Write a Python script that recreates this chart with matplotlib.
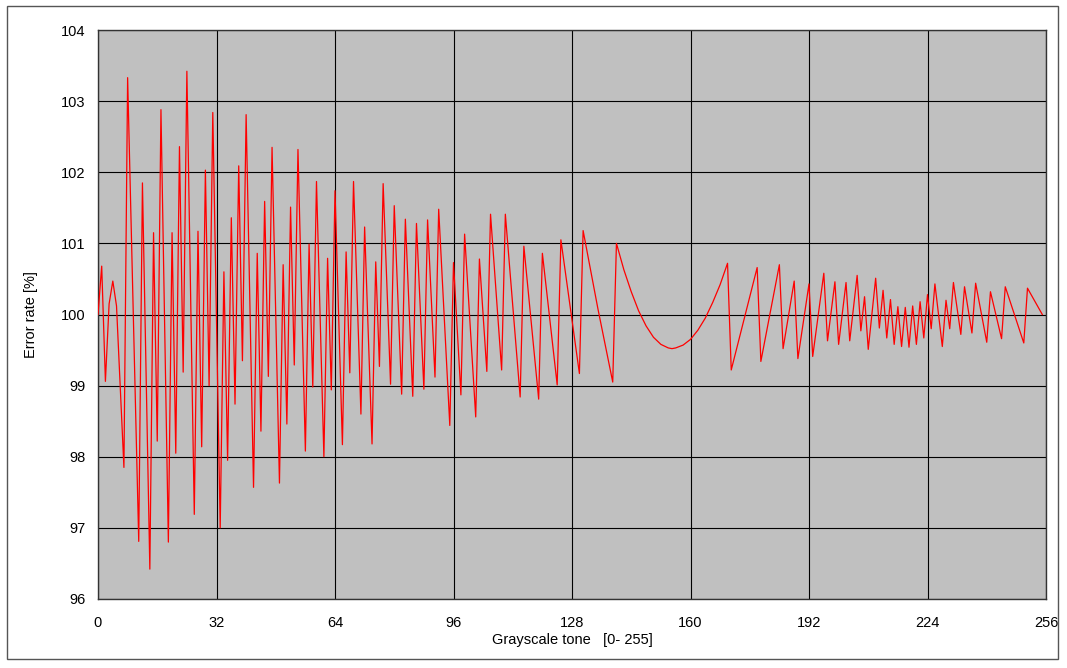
import matplotlib
matplotlib.use('Agg')
import matplotlib.pyplot as plt
from matplotlib.patches import Rectangle

plt.rcParams['font.family'] = ['Liberation Sans', 'DejaVu Sans']

# grayscale tone (vertices of the curve) and error rate
tone = [0, 1, 2, 3, 4, 5, 7, 8, 11, 12, 14, 15, 16, 17, 19, 20, 21, 22, 23, 24,
        26, 27, 28, 29, 30, 31, 33, 34, 35, 36, 37, 38, 39, 40, 42, 43, 44, 45, 46, 47,
        49, 50, 51, 52, 53, 54, 56, 57, 58, 59, 61, 62, 63, 64, 66, 67, 68, 69, 71, 72,
        74, 75, 76, 77, 79, 80, 82, 83, 85, 86, 88, 89, 91, 92, 95, 96, 98, 99, 102, 103,
        105, 106, 109, 110, 114, 115, 119, 120, 124, 125, 130, 131, 135, 139, 140,
        142, 144, 146, 148, 150, 152, 154, 155, 156, 158, 160, 162, 164, 166, 168, 170,
        171, 178, 179, 184, 185, 188, 189, 192, 193, 196, 197, 199, 200, 202, 203, 205,
        206, 207, 208, 210, 211, 212, 213, 214, 215, 216, 217, 218, 219, 220, 221, 222,
        223, 224, 225, 226, 228, 229, 230, 231, 233, 234, 236, 237, 240, 241, 244, 245,
        250, 251, 255]
error = [100.0, 100.68, 99.06, 100.15, 100.47, 100.12, 97.85, 103.33, 96.81, 101.85,
         96.42, 101.15, 98.22, 102.88, 96.8, 101.15, 98.05, 102.36, 99.19, 103.42,
         97.19, 101.17, 98.14, 102.03, 99.0, 102.84, 97.0, 100.6, 97.95, 101.36,
         98.74, 102.09, 99.35, 102.81, 97.57, 100.86, 98.36, 101.59, 99.13, 102.35,
         97.63, 100.70, 98.46, 101.51, 99.29, 102.32, 98.08, 100.99, 98.98, 101.87,
         98.0, 100.79, 98.94, 101.74, 98.17, 100.88, 99.18, 101.87, 98.6, 101.23,
         98.18, 100.74, 99.27, 101.84, 99.02, 101.53, 98.88, 101.34, 98.85, 101.28,
         98.95, 101.33, 99.12, 101.48, 98.44, 100.73, 98.87, 101.13, 98.56, 100.78,
         99.2, 101.41, 99.22, 101.41, 98.84, 100.96, 98.81, 100.86, 99.01, 101.05,
         99.17, 101.18, 100.08, 99.05, 101.0,
         100.63, 100.32, 100.05, 99.84, 99.68, 99.58, 99.53, 99.52, 99.53, 99.57,
         99.65, 99.78, 99.95, 100.17, 100.42, 100.72,
         99.22, 100.66, 99.34, 100.70, 99.52, 100.47, 99.38, 100.43, 99.41, 100.58,
         99.63, 100.46, 99.58, 100.45, 99.63, 100.55,
         99.77, 100.25, 99.51, 100.51, 99.81, 100.34, 99.67, 100.21, 99.58, 100.11,
         99.55, 100.10, 99.54, 100.12, 99.58, 100.18,
         99.67, 100.28, 99.80, 100.43, 99.55, 100.20, 99.80, 100.45, 99.72, 100.39,
         99.74, 100.44, 99.61, 100.32, 99.66, 100.39,
         99.60, 100.37, 100.0]

xticks = [0, 32, 64, 96, 128, 160, 192, 224, 256]
yticks = [96, 97, 98, 99, 100, 101, 102, 103, 104]

W, H = 1067, 668
fig = plt.figure(figsize=(W / 100, H / 100), dpi=100)
fig.patch.set_facecolor('white')

# outer frame of the picture
fig.patches.append(Rectangle((7 / W, 1 - 659 / H), 1051 / W, 653 / H,
                             transform=fig.transFigure, fill=False,
                             edgecolor='#555555', lw=1.0))

ax = fig.add_axes([98 / W, 1 - 599 / H, 948 / W, 569 / H])
ax.set_facecolor('#c0c0c0')
ax.plot(tone, error, color='red', lw=0.9, zorder=3)

ax.set_xlim(0, 256)
ax.set_ylim(96, 104)
ax.set_xticks(xticks)
ax.set_yticks(yticks)
ax.grid(True, color='black', lw=0.8)
ax.set_axisbelow(True)
ax.tick_params(length=0, labelsize=10.5)
ax.tick_params(axis='x', pad=12)
ax.tick_params(axis='y', pad=9)
for s in ax.spines.values():
    s.set_color('#333333')
    s.set_linewidth(1.0)

fig.text(572 / W, 1 - 640 / H, 'Grayscale tone   [0- 255]', ha='center',
         va='center', fontsize=10.5)
fig.text(31 / W, 1 - 315 / H, 'Error rate [%]', ha='center', va='center',
         rotation=90, fontsize=10.5)

fig.savefig('out.png', dpi=100)
